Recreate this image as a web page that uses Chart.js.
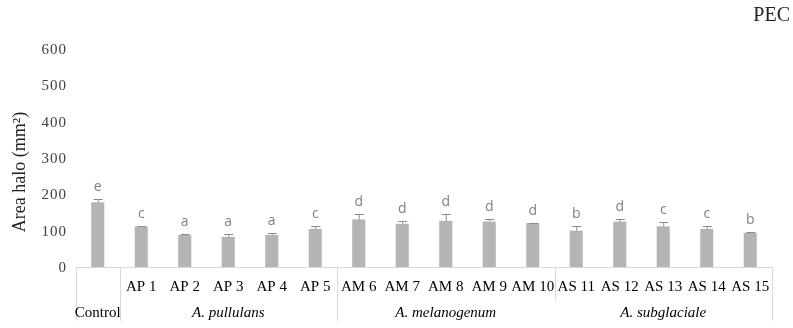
<!DOCTYPE html>
<html>
<head>
<meta charset="utf-8">
<script src="https://cdn.jsdelivr.net/npm/chart.js@4/dist/chart.umd.min.js"></script>
<style>
  html, body { margin: 0; padding: 0; background: #ffffff; }
  #wrap { width: 793px; height: 328px; position: relative; }
</style>
</head>
<body>
<div id="wrap"><canvas id="c" width="793" height="328"></canvas></div>
<script>
// Halo area per treatment (mm²), standard error and significance letters
const categories = ['Control', 'AP 1', 'AP 2', 'AP 3', 'AP 4', 'AP 5',
  'AM 6', 'AM 7', 'AM 8', 'AM 9', 'AM 10', 'AS 11', 'AS 12', 'AS 13', 'AS 14', 'AS 15'];
const haloArea = [178, 111, 88, 83, 88, 105, 131, 119, 127, 125, 121, 100, 125, 112, 105, 94];
const haloError = [9, 1.5, 1.5, 8, 5, 7, 14, 7, 18, 7, 1, 12, 7, 12, 8, 1];
const letters = ['e', 'c', 'a', 'a', 'a', 'c', 'd', 'd', 'd', 'd', 'd', 'b', 'd', 'c', 'c', 'b'];
const yTicks = [0, 100, 200, 300, 400, 500, 600];
// Outer row of the category axis: label and index range of each group
const groupNames = ['Control', 'A. pullulans', 'A. melanogenum', 'A. subglaciale'];
const groupStart = [0, 1, 6, 11];
const groupEnd = [0, 5, 10, 15];

const serif = '"Liberation Serif", "Times New Roman", serif';
const sans = '"Open Sans", "Liberation Sans", sans-serif';

// Inner row shows strain codes only; Control sits in the outer row
const innerLabels = categories.map((c, i) => (i === 0 ? '' : c));

const extrasPlugin = {
  id: 'extras',
  afterDatasetsDraw(chart) {
    const ctx = chart.ctx;
    const y = chart.scales.y;
    const meta = chart.getDatasetMeta(0);
    ctx.save();
    // error bars (upper whisker only) and letters
    meta.data.forEach((bar, i) => {
      const px = bar.x;
      const top = y.getPixelForValue(haloArea[i] + haloError[i]);
      const base = y.getPixelForValue(haloArea[i]);
      ctx.strokeStyle = '#8a8a8a';
      ctx.lineWidth = 1;
      ctx.beginPath();
      ctx.moveTo(px + 0.5, base);
      ctx.lineTo(px + 0.5, top);
      ctx.moveTo(px - 4, Math.round(top) + 0.5);
      ctx.lineTo(px + 5, Math.round(top) + 0.5);
      ctx.stroke();
      ctx.fillStyle = '#7f7f7f';
      ctx.font = '14px ' + sans;
      ctx.textAlign = 'center';
      ctx.textBaseline = 'alphabetic';
      ctx.fillText(letters[i], px, top - 8);
    });
    ctx.restore();
  },
  afterDraw(chart) {
    const ctx = chart.ctx;
    const x = chart.scales.x, y = chart.scales.y;
    const area = chart.chartArea;
    const step = x.getPixelForValue(1) - x.getPixelForValue(0);
    ctx.save();
    // value axis labels
    ctx.fillStyle = '#404040';
    ctx.font = '15px ' + serif;
    ctx.letterSpacing = '1px';
    ctx.textAlign = 'right';
    ctx.textBaseline = 'middle';
    yTicks.forEach(v => {
      ctx.fillText(String(v), 67, y.getPixelForValue(v) + 1);
    });
    ctx.letterSpacing = '0px';
    // value axis title
    ctx.save();
    ctx.translate(20, 172);
    ctx.rotate(-Math.PI / 2);
    ctx.fillStyle = '#222222';
    ctx.font = '18px ' + serif;
    ctx.textAlign = 'center';
    ctx.textBaseline = 'middle';
    ctx.fillText('Area halo (mm²)', 0, 0);
    ctx.restore();
    // group separators of the category axis
    ctx.strokeStyle = '#d9d9d9';
    ctx.lineWidth = 1;
    const seps = [groupStart[0], groupStart[1], groupStart[2], groupStart[3], groupEnd[3] + 1];
    const sepBottom = [321, 321, 321, 301, 321];
    seps.forEach((idx, k) => {
      const px = Math.round(x.getPixelForValue(idx) - step / 2) + 0.5;
      ctx.beginPath();
      ctx.moveTo(px, area.bottom);
      ctx.lineTo(px, sepBottom[k]);
      ctx.stroke();
    });
    // outer row labels
    ctx.fillStyle = '#000000';
    ctx.textAlign = 'center';
    ctx.textBaseline = 'middle';
    groupNames.forEach((name, g) => {
      const cx = (x.getPixelForValue(groupStart[g]) + x.getPixelForValue(groupEnd[g])) / 2;
      ctx.font = (g === 0 ? '' : 'italic ') + '15px ' + serif;
      ctx.fillText(name, cx, 313);
    });
    // panel tag
    ctx.font = '20px ' + serif;
    ctx.textAlign = 'right';
    ctx.fillStyle = '#222222';
    ctx.fillText('PEC', 790, 16);
    ctx.restore();
  }
};

new Chart(document.getElementById('c'), {
  type: 'bar',
  data: {
    labels: innerLabels,
    datasets: [{
      data: haloArea,
      backgroundColor: '#b4b4b4',
      borderWidth: 0,
      categoryPercentage: 1.0,
      barPercentage: 0.3
    }]
  },
  options: {
    responsive: false,
    animation: false,
    devicePixelRatio: 1,
    layout: { padding: { top: 49, right: 21, left: 0, bottom: 0 } },
    plugins: { legend: { display: false }, tooltip: { enabled: false }, title: { display: false } },
    scales: {
      y: {
        min: 0, max: 600,
        afterBuildTicks(scale) { scale.ticks = yTicks.map(v => ({ value: v })); },
        afterFit(scale) { scale.width = 76; },
        grid: { display: false, drawTicks: false },
        border: { display: false },
        ticks: { display: false }
      },
      x: {
        afterFit(scale) { scale.height = 61; },
        grid: { display: false, drawTicks: false },
        border: { display: true, color: '#d9d9d9', width: 1 },
        ticks: { color: '#000000', font: { family: serif, size: 15 }, padding: 11, maxRotation: 0, autoSkip: false }
      }
    }
  },
  plugins: [extrasPlugin]
});
</script>
</body>
</html>
